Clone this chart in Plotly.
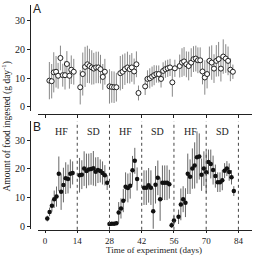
import plotly.graph_objects as go

# ---------------- Panel A data (open circles) ----------------
days_a = [1.9, 2.9, 3.8, 4.8, 5.7, 6.7, 7.7, 8.7, 9.5, 10.6, 11.4, 12.5,
          15.3, 16.4, 17.4, 18.4, 19.3, 20.3, 21.2, 22.2, 23.2, 24.1, 25.1, 26.0,
          28.0, 29.0, 30.0, 31.0, 32.7, 33.7, 34.7, 35.8, 36.8, 37.7, 38.7, 39.7, 40.6,
          43.5, 44.5, 45.5, 46.5, 47.4, 48.4, 49.4, 50.4, 51.3, 52.3, 53.3, 54.3, 55.3, 56.4,
          58.5, 59.5, 60.4, 61.4, 62.4, 63.5, 64.5, 65.5, 66.4, 67.4, 68.4, 69.4, 70.4,
          71.4, 72.4, 73.4, 74.4, 75.4, 76.4, 77.4, 78.5, 79.5, 80.5, 81.6]
mean_a = [9.1, 8.9, 12.0, 12.2, 10.8, 17.0, 11.0, 11.0, 14.9, 10.8, 12.9, 12.2,
          6.8, 11.4, 13.9, 14.8, 14.2, 13.7, 13.3, 13.7, 13.7, 13.1, 10.4, 12.2,
          7.1, 6.9, 6.8, 6.8, 11.7, 12.2, 13.1, 13.7, 13.1, 13.7, 12.3, 14.8, 4.8,
          7.1, 9.7, 9.9, 10.5, 11.0, 11.4, 11.4, 9.7, 12.5, 13.1, 13.4, 13.7, 8.5, 13.4,
          14.2, 15.4, 15.8, 14.8, 14.2, 15.4, 16.6, 16.8, 16.2, 16.2, 12.3, 10.2, 11.4,
          16.0, 15.4, 13.3, 16.0, 16.6, 13.3, 17.5, 16.8, 16.0, 12.9, 12.2]
sd_a = [6.5, 6.0, 7.0, 5.5, 4.5, 4.3, 4.0, 5.0, 4.5, 4.5, 5.0, 4.5,
        6.0, 7.5, 7.0, 6.5, 6.0, 6.0, 5.5, 5.5, 5.5, 5.0, 4.5, 4.5,
        6.0, 5.5, 5.5, 5.0, 6.0, 6.0, 5.5, 5.5, 5.0, 5.0, 4.5, 4.5, 2.6,
        3.0, 3.0, 3.5, 3.5, 3.5, 3.0, 3.0, 3.0, 3.0, 3.0, 3.0, 3.0, 5.0, 3.0,
        4.0, 5.0, 5.0, 4.5, 5.0, 5.0, 4.5, 4.5, 4.5, 4.5, 4.5, 6.0, 5.0,
        5.0, 6.0, 5.0, 5.5, 6.0, 4.5, 6.0, 5.0, 5.0, 4.0, 2.5]

# ---------------- Panel B data (filled circles) ----------------
days_b = [1, 2, 3, 4, 5, 6, 7, 8, 9, 10, 11, 12,
          15, 16, 17, 18, 19, 20, 21, 22, 23, 24, 25, 26, 27,
          28, 29, 30, 31, 32, 33, 34, 35, 36, 37, 38, 39, 40,
          43, 44, 45, 46, 47, 48, 49, 50, 51, 52, 53, 54,
          55, 56, 58, 59, 60, 61, 62, 63, 64, 65, 66, 67,
          68, 69, 70, 71, 72, 73, 74, 75, 76, 77, 78, 79, 80, 81, 82]
mean_b = [2.8, 5.1, 7.2, 9.5, 10.4, 18.3, 12.1, 14.4, 16.8, 16.5, 18.3, 18.6,
          17.8, 18.0, 20.1, 19.3, 19.8, 20.0, 20.2, 19.0, 19.6, 19.3, 18.6, 17.8, 15.2,
          0.9, 1.0, 1.0, 1.2, 4.9, 6.3, 9.0, 13.8, 13.4, 14.2, 19.5, 22.8, 16.5,
          13.5, 13.5, 14.3, 13.5, 5.3, 14.5, 16.9, 9.5, 15.2, 15.2, 15.2, 14.7,
          0.5, 2.1, 3.4, 7.7, 9.5, 8.3, 18.3, 17.3, 20.1, 21.2, 24.0, 24.3,
          18.0, 20.1, 18.8, 22.4, 21.7, 19.6, 17.5, 15.4, 15.4, 16.1, 19.4, 20.1, 18.9, 17.1, 12.3]
sd_b = [1.0, 1.5, 2.0, 3.0, 3.5, 6.0, 6.3, 6.0, 5.5, 5.0, 5.0, 4.0,
        6.0, 5.0, 6.0, 6.0, 5.5, 5.5, 6.0, 5.0, 4.5, 4.0, 4.0, 3.5, 2.5,
        0.5, 0.5, 0.5, 0.5, 3.6, 3.5, 4.0, 5.0, 5.0, 4.5, 5.0, 4.5, 4.0,
        6.0, 6.0, 6.0, 6.0, 8.0, 6.5, 6.0, 7.5, 6.0, 6.0, 6.0, 5.0,
        1.0, 1.5, 2.5, 5.5, 4.5, 5.0, 7.0, 6.0, 7.0, 8.0, 9.0, 8.0,
        5.6, 6.0, 7.0, 4.3, 5.0, 5.0, 4.0, 3.4, 3.4, 3.5, 2.6, 2.6, 3.0, 2.5, 1.7]

period_bounds = [14, 28, 42, 56, 70, 84]
period_mid = [7, 21, 35, 49, 63, 77]
period_names = ["HF", "SD", "HF", "SD", "HF", "SD"]

x_ticks = [0, 14, 28, 42, 56, 70, 84]
y_ticks = [0, 10, 20, 30]

W, H = 254, 257
SERIF = "Liberation Serif"
INK = "#222222"

fig = go.Figure()

fig.add_trace(go.Scatter(
    x=days_a, y=mean_a, mode="markers",
    marker=dict(symbol="circle", size=5, color="white", line=dict(color=INK, width=1)),
    error_y=dict(type="data", array=sd_a, color="#888888", thickness=1, width=0),
    xaxis="x", yaxis="y", showlegend=False))

fig.add_trace(go.Scatter(
    x=days_b, y=mean_b, mode="markers",
    marker=dict(symbol="circle", size=4.5, color="#111111"),
    error_y=dict(type="data", array=sd_b, color="#666666", thickness=1, width=0),
    xaxis="x2", yaxis="y2", showlegend=False))

xdom = [38 / W, 252 / W]
xr = [-3.04, 89.9]
common_x = dict(range=xr, domain=xdom, tickvals=x_ticks, ticks="outside", ticklen=2,
                tickcolor=INK, showline=True, linecolor=INK, linewidth=1,
                showgrid=False, zeroline=False, anchor="free",
                tickfont=dict(family=SERIF, size=9, color=INK))
common_y = dict(tickvals=y_ticks, ticks="outside", ticklen=3, tickcolor=INK,
                showline=True, linecolor=INK, linewidth=1, showgrid=False,
                zeroline=False, anchor="free", position=30 / W,
                tickfont=dict(family=SERIF, size=10, color=INK))

fig.update_layout(
    width=W, height=H, margin=dict(l=0, r=0, t=0, b=0),
    paper_bgcolor="white", plot_bgcolor="white",
    xaxis=dict(common_x, position=1 - 115 / H, showticklabels=False, ticklen=3),
    yaxis=dict(common_y, domain=[1 - 112 / H, 1 - 5 / H], range=[-1.38, 35.5]),
    xaxis2=dict(common_x, position=1 - 232.5 / H, showticklabels=True),
    yaxis2=dict(common_y, domain=[1 - 231.5 / H, 1 - 122 / H], range=[-0.76, 36.75]),
)

shapes = []
for b in period_bounds:
    shapes.append(dict(type="line", xref="x2", yref="paper", x0=b, x1=b,
                       y0=1 - 232.5 / H, y1=1 - 123 / H,
                       line=dict(color="#444444", width=1, dash="dot")))
fig.update_layout(shapes=shapes)

ann = []
for m, n in zip(period_mid, period_names):
    ann.append(dict(x=m, y=33, xref="x2", yref="y2", text=n, showarrow=False,
                    xanchor="center", yanchor="middle",
                    font=dict(family=SERIF, size=10, color=INK)))
ann.append(dict(x=37 / W, y=1 - 9 / H, xref="paper", yref="paper", text="A",
                xanchor="center", yanchor="middle",
                showarrow=False, font=dict(family="Liberation Sans", size=12, color=INK)))
ann.append(dict(x=37 / W, y=1 - 129 / H, xref="paper", yref="paper", text="B",
                xanchor="center", yanchor="middle",
                showarrow=False, font=dict(family="Liberation Sans", size=12, color=INK)))
ann.append(dict(x=7 / W, y=1 - 128 / H, xref="paper", yref="paper",
                text="Amount of food ingested (g day<sup>-1</sup>)", textangle=-90,
                xanchor="center", yanchor="middle",
                showarrow=False, font=dict(family=SERIF, size=9.5, color=INK)))
ann.append(dict(x=154 / W, y=1 - 253 / H, xref="paper", yref="paper",
                text="Time of experiment (days)",
                xanchor="center", yanchor="middle",
                showarrow=False, font=dict(family=SERIF, size=9, color=INK)))
fig.update_layout(annotations=ann)

fig.write_html("out.html")
